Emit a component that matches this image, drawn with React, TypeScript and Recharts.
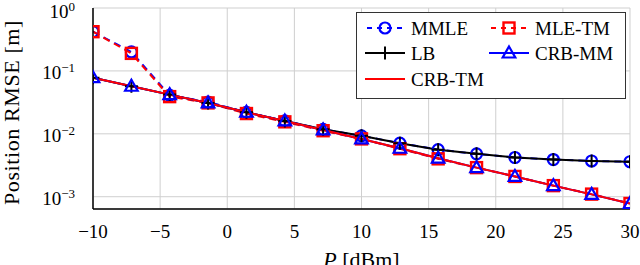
import React from 'react';
import { LineChart, Line, XAxis, YAxis, CartesianGrid } from 'recharts';

// Transmit power P [dBm]
const P_DBM = [-10, -7.14, -4.29, -1.43, 1.43, 4.29, 7.14, 10, 12.86, 15.71, 18.57, 21.43, 24.29, 27.14, 30];
const MMLE = [0.42, 0.2, 0.041, 0.032, 0.022, 0.016, 0.0118, 0.0093, 0.0071, 0.0056, 0.0048, 0.0042, 0.0039, 0.0037, 0.0036];
const MLE_TM = [0.42, 0.19, 0.039, 0.031, 0.021, 0.0155, 0.0112, 0.0083, 0.0058, 0.004, 0.0029, 0.0021, 0.0015, 0.0011, 0.00078];
const LB = [0.078, 0.057, 0.042, 0.031, 0.022, 0.016, 0.0118, 0.0093, 0.0071, 0.0056, 0.0048, 0.0042, 0.0039, 0.0037, 0.0036];
const CRB_MM = [0.078, 0.057, 0.042, 0.031, 0.022, 0.016, 0.0115, 0.0083, 0.0059, 0.0041, 0.0029, 0.0021, 0.0015, 0.00109, 0.00078];
const CRB_TM = [0.078, 0.057, 0.042, 0.031, 0.022, 0.016, 0.0115, 0.0083, 0.0059, 0.0041, 0.0029, 0.0021, 0.0015, 0.00109, 0.00078];

const X_TICKS = [-10, -5, 0, 5, 10, 15, 20, 25, 30];
const Y_TICKS = [0.001, 0.01, 0.1, 1];
const Y_MINOR = [0.0007, 0.0008, 0.0009, 0.002, 0.003, 0.004, 0.005, 0.006, 0.007, 0.008, 0.009,
  0.02, 0.03, 0.04, 0.05, 0.06, 0.07, 0.08, 0.09, 0.2, 0.3, 0.4, 0.5, 0.6, 0.7, 0.8, 0.9];
const Y_DOMAIN = [0.000638, 1];

const FONT_STYLE = { fontFamily: 'Liberation Serif' };

type Kind = 'circle' | 'square' | 'plus' | 'triangle' | 'none';
const SERIES: { key: string; name: string; values: number[]; color: string; dash?: string; marker: Kind }[] = [
  { key: 'mmle', name: 'MMLE', values: MMLE, color: '#0000ff', dash: '7 5', marker: 'circle' },
  { key: 'mletm', name: 'MLE-TM', values: MLE_TM, color: '#ff0000', dash: '7 5', marker: 'square' },
  { key: 'lb', name: 'LB', values: LB, color: '#000000', marker: 'plus' },
  { key: 'crbmm', name: 'CRB-MM', values: CRB_MM, color: '#0000ff', marker: 'triangle' },
  { key: 'crbtm', name: 'CRB-TM', values: CRB_TM, color: '#ff0000', marker: 'none' },
];

const data = P_DBM.map((p, i) => {
  const row: Record<string, number> = { p };
  SERIES.forEach((s) => { row[s.key] = s.values[i]; });
  return row;
});

function Marker({ kind, cx, cy, color }: { kind: Kind; cx: number; cy: number; color: string }) {
  if (kind === 'circle') return <circle cx={cx} cy={cy} r={5.5} fill="none" stroke={color} strokeWidth={2.2} />;
  if (kind === 'square') return <rect x={cx - 5.5} y={cy - 5.5} width={11} height={11} fill="none" stroke={color} strokeWidth={2.4} />;
  if (kind === 'plus') return <path d={`M${cx - 6.5},${cy}H${cx + 6.5}M${cx},${cy - 6.5}V${cy + 6.5}`} stroke={color} strokeWidth={2} fill="none" />;
  if (kind === 'triangle') return <path d={`M${cx},${cy - 6.5}L${cx + 6.3},${cy + 4.5}L${cx - 6.3},${cy + 4.5}Z`} fill="none" stroke={color} strokeWidth={2.2} />;
  return null;
}

const YTick = (props: any) => {
  const { x, y, payload } = props;
  const exp = Math.round(Math.log10(payload.value));
  return (
    <text x={x - 10} y={y + 8.5} textAnchor="end" style={FONT_STYLE} fontSize={19} fill="#000">
      10<tspan dy={-7} fontSize={13}>{exp < 0 ? '\u2212' + -exp : String(exp)}</tspan>
    </text>
  );
};

const XTick = (props: any) => {
  const { x, y, payload } = props;
  const v = payload.value;
  return (
    <text x={x} y={y + 21} textAnchor="middle" style={FONT_STYLE} fontSize={19} fill="#000">
      {v < 0 ? '\u2212' + -v : String(v)}
    </text>
  );
};

const Empty = () => <g />;

const XLabel = (props: any) => {
  const vb = props.viewBox || { x: 93, y: 209, width: 537 };
  return (
    <text x={vb.x + vb.width / 2} y={vb.y + 58} textAnchor="middle" style={FONT_STYLE} fontSize={22} fill="#000">
      <tspan fontStyle="italic">P</tspan> [dBm]
    </text>
  );
};

const YLabel = (props: any) => {
  const vb = props.viewBox || { x: 0, y: 8, height: 201 };
  const cx = 19;
  const cy = vb.y + vb.height / 2 + 4;
  return (
    <text x={cx} y={cy} transform={`rotate(-90 ${cx} ${cy})`} textAnchor="middle" style={FONT_STYLE} fontSize={22} fill="#000" letterSpacing={0.6}>
      Position RMSE [m]
    </text>
  );
};

const LEG_X = [365, 489];
const LEG_Y = [28, 53, 79];

function LegendBox() {
  return (
    <svg width={640} height={265} style={{ position: 'absolute', left: 0, top: 0, pointerEvents: 'none' }}>
      <rect x={356.5} y={12.5} width={269} height={86} fill="#fff" stroke="#333" strokeWidth={1} />
      {SERIES.map((s, i) => {
        const col = i % 2;
        const row = Math.floor(i / 2);
        const x0 = LEG_X[col];
        const y0 = LEG_Y[row];
        return (
          <g key={s.key}>
            <line x1={x0} y1={y0} x2={x0 + 40} y2={y0} stroke={s.color} strokeWidth={2} strokeDasharray={s.dash ? '5 5' : undefined} strokeDashoffset={s.dash ? -2 : undefined} />
            <Marker kind={s.marker} cx={x0 + 20} cy={y0} color={s.color} />
            <text x={x0 + 46} y={y0 + 6.5} style={FONT_STYLE} fontSize={19} fill="#000">{s.name}</text>
          </g>
        );
      })}
    </svg>
  );
}

export default function App() {
  return (
    <div style={{ position: 'absolute', left: 0, top: 0, width: 640, height: 265, background: '#fff' }}>
      <LineChart width={640} height={265} data={data} margin={{ top: 8, right: 10, bottom: 0, left: 0 }}>
        <CartesianGrid stroke="#cfcfcf" strokeWidth={1} vertical horizontal />
        <XAxis dataKey="p" type="number" domain={[-10, 30]} ticks={X_TICKS} tick={<XTick />} tickLine={false}
          axisLine={{ stroke: '#000', strokeWidth: 1.5 }} height={56} label={<XLabel />} allowDataOverflow />
        <XAxis xAxisId="top" dataKey="p" type="number" orientation="top" mirror domain={[-10, 30]} ticks={X_TICKS}
          tick={<Empty />} tickSize={4} tickLine={{ stroke: '#555' }} axisLine={{ stroke: '#000', strokeWidth: 1 }} height={0} />
        <XAxis xAxisId="bot" dataKey="p" type="number" orientation="bottom" mirror domain={[-10, 30]} ticks={X_TICKS}
          tick={<Empty />} tickSize={4} tickLine={{ stroke: '#555' }} axisLine={false} height={0} />
        <YAxis type="number" scale="log" domain={Y_DOMAIN} ticks={Y_TICKS} tick={<YTick />} tickLine={false}
          axisLine={{ stroke: '#000', strokeWidth: 1.5 }} width={93} allowDataOverflow label={<YLabel />} />
        <YAxis yAxisId="minL" type="number" scale="log" domain={Y_DOMAIN} ticks={Y_MINOR} tick={<Empty />} mirror
          tickSize={5} tickLine={{ stroke: '#999' }} axisLine={false} allowDataOverflow width={0} />
        <YAxis yAxisId="minR" orientation="right" type="number" scale="log" domain={Y_DOMAIN} ticks={Y_MINOR} tick={<Empty />} mirror
          tickSize={5} tickLine={{ stroke: '#999' }} axisLine={{ stroke: '#000', strokeWidth: 1 }} allowDataOverflow width={0} />
        {SERIES.map((s) => (
          <Line key={s.key} dataKey={s.key} name={s.name} type="linear" stroke={s.color} strokeWidth={2}
            strokeDasharray={s.dash} isAnimationActive={false}
            dot={s.marker === 'none' ? false : (p: any) => <Marker key={`${s.key}-${p.index}`} kind={s.marker} cx={p.cx} cy={p.cy} color={s.color} />}
            activeDot={false} />
        ))}
      </LineChart>
      <LegendBox />
    </div>
  );
}
